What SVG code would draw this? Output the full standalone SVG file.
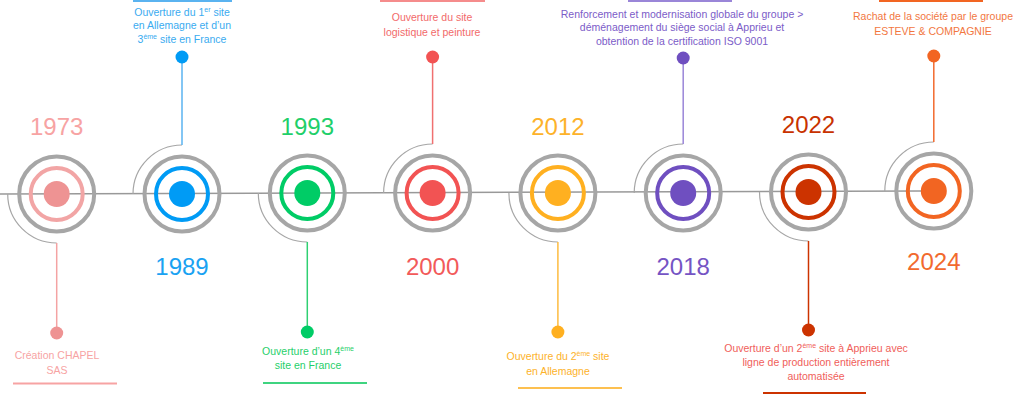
<svg xmlns="http://www.w3.org/2000/svg" width="1024" height="395" viewBox="0 0 1024 395">
<style>
.bg{fill:#ffffff}
.axis{stroke:#999999;stroke-width:1.5;fill:none}
.arc{stroke:#a6a6a6;stroke-width:1.2;fill:none}
.outer{fill:none;stroke:#a6a6a6;stroke-width:4}
.inner{fill:none;stroke-width:4}
.yr{font-family:"Liberation Sans",Arial,sans-serif;font-size:24px;text-anchor:middle}
.lbl{font-family:"Liberation Sans",Arial,sans-serif;font-size:10.5px;text-anchor:middle}
.sup{font-size:7px}
.conn{stroke-width:1.5;fill:none}
</style>
<rect class="bg" x="0" y="0" width="1024" height="395"/>
<g id="connectors">
<line class="axis" x1="0" y1="194" x2="922" y2="191"/>
<path class="arc" d="M7.7,194 A49,49 0 0 0 56.7,243"/>
<line class="conn" stroke="#f4a3a3" x1="56.7" y1="243" x2="56.7" y2="333"/>
<path class="arc" d="M133,194 A49,49 0 0 1 182,145"/>
<line class="conn" stroke="#5ab3f0" x1="182" y1="145" x2="182" y2="57"/>
<path class="arc" d="M258.3,193 A49,49 0 0 0 307.3,242"/>
<line class="conn" stroke="#2fd072" x1="307.3" y1="242" x2="307.3" y2="332"/>
<path class="arc" d="M383.6,193 A49,49 0 0 1 432.6,144"/>
<line class="conn" stroke="#f07070" x1="432.6" y1="144" x2="432.6" y2="57"/>
<path class="arc" d="M508.9,193 A49,49 0 0 0 557.9,242"/>
<line class="conn" stroke="#fdbb40" x1="557.9" y1="242" x2="557.9" y2="332"/>
<path class="arc" d="M634.2,193 A49,49 0 0 1 683.2,144"/>
<line class="conn" stroke="#9a86d8" x1="683.2" y1="144" x2="683.2" y2="58"/>
<path class="arc" d="M759.5,192 A49,49 0 0 0 808.5,241"/>
<line class="conn" stroke="#cc3300" x1="808.5" y1="241" x2="808.5" y2="330"/>
<path class="arc" d="M884.8,191 A49,49 0 0 1 933.8,142"/>
<line class="conn" stroke="#f26a2e" x1="933.8" y1="142" x2="933.8" y2="56"/>
</g>
<g id="n1973">
<circle class="outer" cx="56.7" cy="194" r="37.5"/>
<circle class="inner" stroke="#f2a5a5" cx="56.7" cy="194" r="26"/>
<circle fill="#ee9393" cx="56.7" cy="194" r="13"/>
<text class="yr" fill="#f7a3a3" x="56.7" y="135">1973</text>
<circle fill="#ee9393" cx="56.7" cy="333" r="6.5"/>
<text class="lbl" fill="#f7a3a3" x="57" y="359">Création CHAPEL</text>
<text class="lbl" fill="#f7a3a3" x="57" y="374">SAS</text>
<rect fill="#f7a3a3" x="13" y="382.5" width="104" height="2"/>
</g>
<g id="n1989">
<circle class="outer" cx="182" cy="194" r="37.5"/>
<circle class="inner" stroke="#009bf5" cx="182" cy="194" r="26"/>
<circle fill="#009bf5" cx="182" cy="194" r="13"/>
<text class="yr" fill="#1aa2f2" x="182" y="275">1989</text>
<circle fill="#009bf5" cx="182" cy="57" r="6.5"/>
<text class="lbl" fill="#3aabf0" x="182" y="16">Ouverture du 1<tspan class="sup" dy="-4">er</tspan><tspan dy="4"> site</tspan></text>
<text class="lbl" fill="#3aabf0" x="182" y="29">en Allemagne et d’un</text>
<text class="lbl" fill="#3aabf0" x="182" y="43">3<tspan class="sup" dy="-4">ème</tspan><tspan dy="4"> site en France</tspan></text>
<rect fill="#5ab3f0" x="133" y="0" width="99" height="2"/>
</g>
<g id="n1993">
<circle class="outer" cx="307.3" cy="193" r="37.5"/>
<circle class="inner" stroke="#00cc66" cx="307.3" cy="193" r="26"/>
<circle fill="#00cc66" cx="307.3" cy="193" r="13"/>
<text class="yr" fill="#1fcf6a" x="307.3" y="135">1993</text>
<circle fill="#00cc66" cx="307.3" cy="332" r="6.5"/>
<text class="lbl" fill="#1fcf6a" x="308" y="355">Ouverture d’un 4<tspan class="sup" dy="-4">ème</tspan></text>
<text class="lbl" fill="#1fcf6a" x="308" y="369">site en France</text>
<rect fill="#3fd480" x="263" y="382" width="104" height="2"/>
</g>
<g id="n2000">
<circle class="outer" cx="432.6" cy="193" r="37.5"/>
<circle class="inner" stroke="#f25353" cx="432.6" cy="193" r="26"/>
<circle fill="#f25353" cx="432.6" cy="193" r="13"/>
<text class="yr" fill="#f25a5a" x="432.6" y="275">2000</text>
<circle fill="#f25353" cx="432.6" cy="57" r="6.5"/>
<text class="lbl" fill="#f26a6a" x="432" y="21">Ouverture du site</text>
<text class="lbl" fill="#f26a6a" x="432" y="36">logistique et peinture</text>
<rect fill="#f58c8c" x="380" y="0" width="105" height="2"/>
</g>
<g id="n2012">
<circle class="outer" cx="557.9" cy="193" r="37.5"/>
<circle class="inner" stroke="#ffb020" cx="557.9" cy="193" r="26"/>
<circle fill="#ffb020" cx="557.9" cy="193" r="13"/>
<text class="yr" fill="#fdb22a" x="557.9" y="135">2012</text>
<circle fill="#ffb020" cx="557.9" cy="332" r="6.5"/>
<text class="lbl" fill="#fdb22a" x="558" y="360">Ouverture du 2<tspan class="sup" dy="-4">ème</tspan><tspan dy="4"> site</tspan></text>
<text class="lbl" fill="#fdb22a" x="558" y="375">en Allemagne</text>
<rect fill="#fdc050" x="518" y="387" width="104" height="2"/>
</g>
<g id="n2018">
<circle class="outer" cx="683.2" cy="193" r="37.5"/>
<circle class="inner" stroke="#6f4fc0" cx="683.2" cy="193" r="26"/>
<circle fill="#6f4fc0" cx="683.2" cy="193" r="13"/>
<text class="yr" fill="#7554c4" x="683.2" y="275">2018</text>
<circle fill="#6f4fc0" cx="683.2" cy="58" r="6.5"/>
<text class="lbl" fill="#7b5cc8" x="682" y="18">Renforcement et modernisation globale du groupe &gt;</text>
<text class="lbl" fill="#7b5cc8" x="682" y="31">déménagement du siège social à Apprieu  et</text>
<text class="lbl" fill="#7b5cc8" x="682" y="45">obtention de la certification ISO 9001</text>
<rect fill="#9a86d8" x="628" y="0" width="104" height="2"/>
</g>
<g id="n2022">
<circle class="outer" cx="808.5" cy="192" r="37.5"/>
<circle class="inner" stroke="#cc3300" cx="808.5" cy="192" r="26"/>
<circle fill="#cc3300" cx="808.5" cy="192" r="13"/>
<text class="yr" fill="#c83200" x="808.5" y="133">2022</text>
<circle fill="#cc3300" cx="808.5" cy="330" r="6.5"/>
<text class="lbl" fill="#f0605a" x="816" y="352">Ouverture d’un 2<tspan class="sup" dy="-4">ème</tspan><tspan dy="4"> site à Apprieu avec</tspan></text>
<text class="lbl" fill="#f0605a" x="816" y="366">ligne de production entièrement</text>
<text class="lbl" fill="#f0605a" x="816" y="380">automatisée</text>
<rect fill="#cc3300" x="763" y="392" width="103" height="2"/>
</g>
<g id="n2024">
<circle class="outer" cx="933.8" cy="191" r="37.5"/>
<circle class="inner" stroke="#f26522" cx="933.8" cy="191" r="26"/>
<circle fill="#f26522" cx="933.8" cy="191" r="13"/>
<text class="yr" fill="#f26a2e" x="933.8" y="270">2024</text>
<circle fill="#f26522" cx="933.8" cy="56" r="6.5"/>
<text class="lbl" fill="#f2773f" x="933" y="20">Rachat de la société par le groupe</text>
<text class="lbl" fill="#f2773f" x="933" y="35">ESTEVE &amp; COMPAGNIE</text>
<rect fill="#f26522" x="879" y="0" width="104" height="2"/>
</g>
</svg>
